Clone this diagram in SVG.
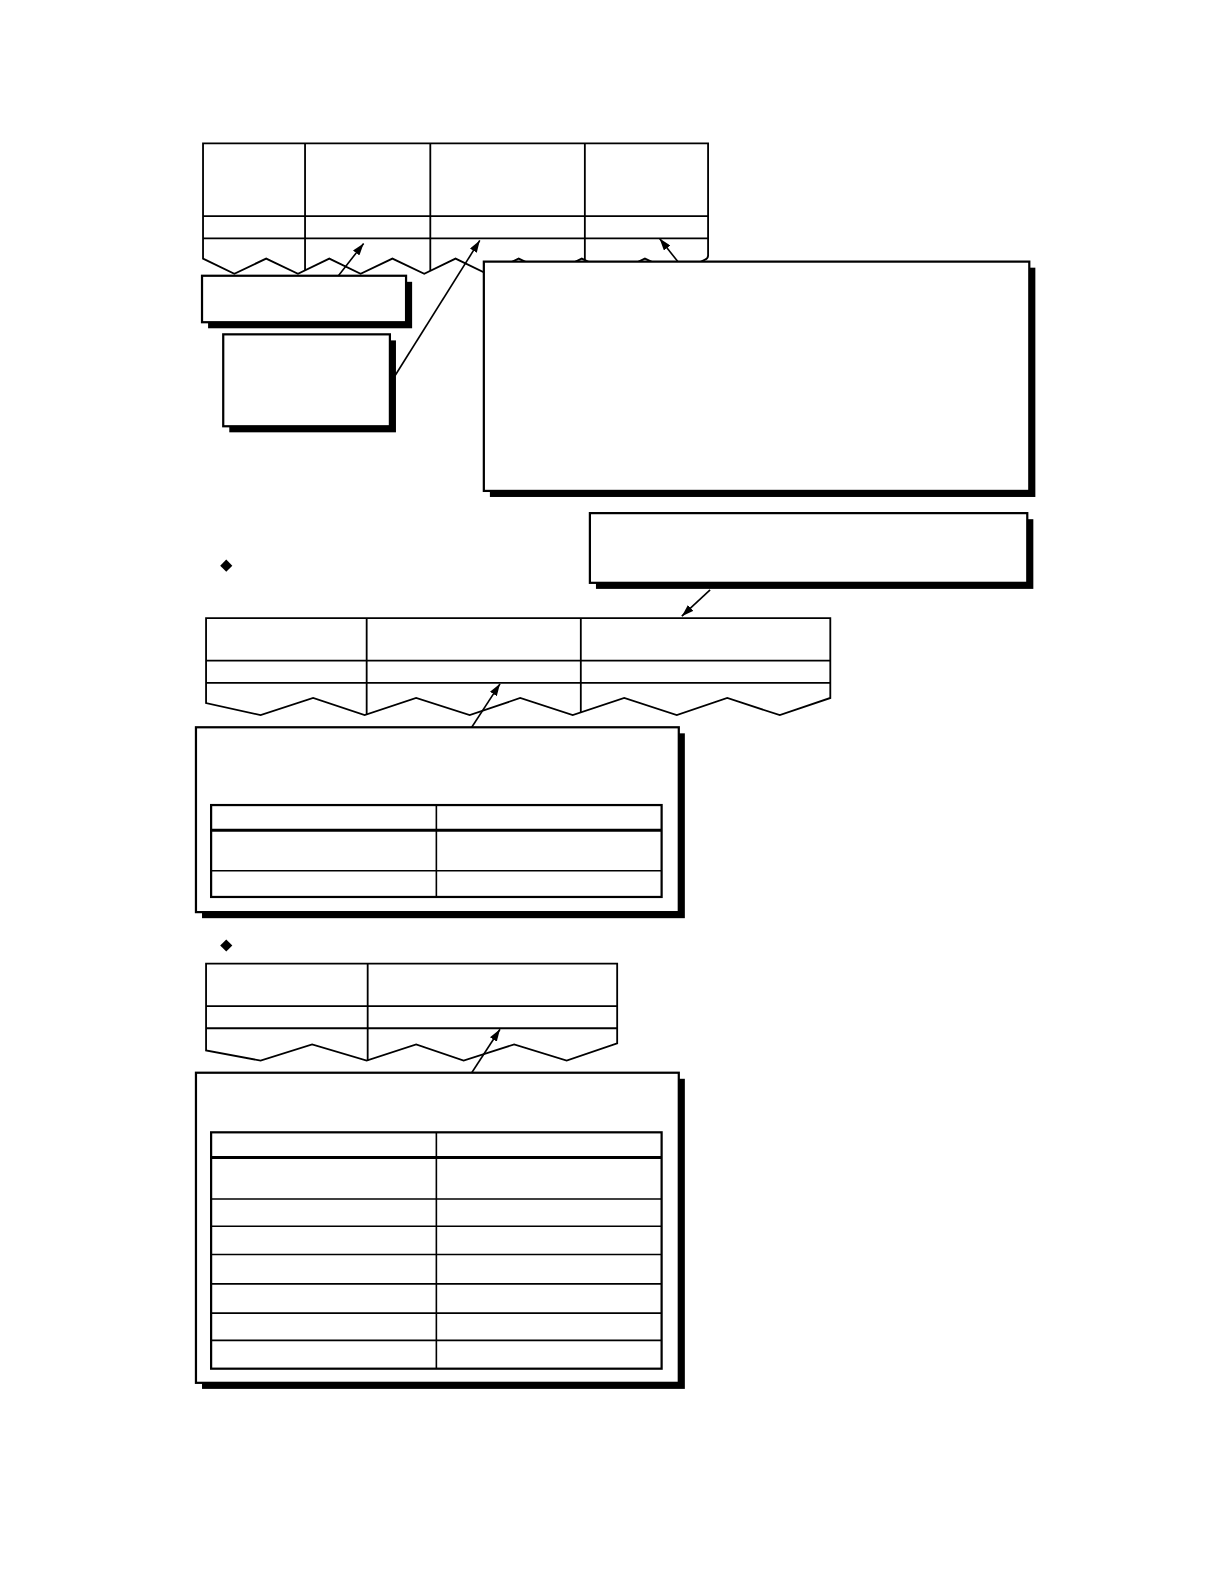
<svg xmlns="http://www.w3.org/2000/svg" width="1224" height="1584" viewBox="0 0 1224 1584">
<style>
.tbl{fill:#fff;stroke:#000;stroke-width:1.8;stroke-linejoin:miter}
.ln{stroke:#000;stroke-width:1.8;fill:none}
.box{fill:#fff;stroke:#000;stroke-width:2.2}
.shd{fill:#000}
.itbl{fill:none;stroke:#000;stroke-width:2.2}
.iln{stroke:#000;stroke-width:1.6}
.hdr{stroke:#000;stroke-width:3}
.con{stroke:#000;stroke-width:1.6;fill:none;marker-end:url(#ah)}
</style>
<defs>
<marker id="ah" viewBox="0 0 12 8" refX="12" refY="4" markerWidth="12" markerHeight="8" markerUnits="userSpaceOnUse" orient="auto">
<path d="M0,0 L12,4 L0,8 Z" fill="#000"/>
</marker>
</defs>
<rect width="1224" height="1584" fill="#fff"/>
<g transform="scale(1.0101)">
<g id="table1">
<path class="tbl" d="M201,142 H701 V253 Q701,256 698,257 L670,271 L638.5,256 L607,271 L576,256 L545,271 L513.5,256 L482,271 L451,256 L420,271 L388.5,256 L357,271 L326,256 L295,271 L263.5,256 L232,271 L201,256 Z"/>
<line class="ln" x1="302" y1="142" x2="302" y2="267.6"/>
<line class="ln" x1="426" y1="142" x2="426" y2="268.1"/>
<line class="ln" x1="579" y1="142" x2="579" y2="257.5"/>
<line class="ln" x1="201" y1="214" x2="701" y2="214"/>
<line class="ln" x1="201" y1="236" x2="701" y2="236"/>
</g>

<g id="box1">
<rect class="shd" x="206" y="279" width="202" height="46"/>
<rect class="box" x="200" y="273" width="202" height="46"/>
</g>
<g id="box2">
<rect class="shd" x="227" y="337" width="165" height="91"/>
<rect class="box" x="221" y="331" width="165" height="91"/>
</g>
<g id="box-main">
<rect class="shd" x="485" y="265" width="540" height="227"/>
<rect class="box" x="479" y="259" width="540" height="227"/>
</g>

<g id="diamond1"><path d="M224,554 L230,560 L224,566 L218,560 Z" fill="#000"/></g>

<g id="box3">
<rect class="shd" x="590" y="514" width="433" height="69"/>
<rect class="box" x="584" y="508" width="433" height="69"/>
</g>

<g id="table2">
<path class="tbl" d="M204,612 H822 V691 L772,708 L720,691 L670,708 L618,691 L567,708 L515,691 L465,708 L412,691 L361,708 L310,691 L258,708 L204,696 Z"/>
<line class="ln" x1="363" y1="612" x2="363" y2="707.5"/>
<line class="ln" x1="575" y1="612" x2="575" y2="705.3"/>
<line class="ln" x1="204" y1="654" x2="822" y2="654"/>
<line class="ln" x1="204" y1="676" x2="822" y2="676"/>
</g>

<g id="box4">
<rect class="shd" x="200" y="726" width="478" height="183"/>
<rect class="box" x="194" y="720" width="478" height="183"/>
<rect class="itbl" x="209" y="797" width="446" height="91"/>
<line class="hdr" x1="209" y1="822" x2="655" y2="822"/>
<line class="iln" x1="209" y1="862" x2="655" y2="862"/>
<line class="iln" x1="432" y1="797" x2="432" y2="888"/>
</g>

<g id="diamond2"><path d="M224,930 L230,936 L224,942 L218,936 Z" fill="#000"/></g>

<g id="table3">
<path class="tbl" d="M204,954 H611 V1033 L561,1050 L509,1034 L459,1050 L412,1034 L363,1050 L309,1034 L258,1050 L204,1040 Z"/>
<line class="ln" x1="364" y1="954" x2="364" y2="1050"/>
<line class="ln" x1="204" y1="996" x2="611" y2="996"/>
<line class="ln" x1="204" y1="1018" x2="611" y2="1018"/>
</g>

<g id="box5">
<rect class="shd" x="200" y="1068" width="478" height="307"/>
<rect class="box" x="194" y="1062" width="478" height="307"/>
<rect class="itbl" x="209" y="1121" width="446" height="234"/>
<line class="hdr" x1="209" y1="1146" x2="655" y2="1146"/>
<line class="iln" x1="209" y1="1187" x2="655" y2="1187"/>
<line class="iln" x1="209" y1="1214" x2="655" y2="1214"/>
<line class="iln" x1="209" y1="1242" x2="655" y2="1242"/>
<line class="iln" x1="209" y1="1271" x2="655" y2="1271"/>
<line class="iln" x1="209" y1="1300" x2="655" y2="1300"/>
<line class="iln" x1="209" y1="1327" x2="655" y2="1327"/>
<line class="iln" x1="432" y1="1121" x2="432" y2="1355"/>
</g>

<g id="connectors">
<line class="con" x1="335" y1="273" x2="360" y2="241"/>
<line class="con" x1="391" y1="372" x2="475" y2="238"/>
<line class="con" x1="671" y1="259" x2="653" y2="236"/>
<line class="con" x1="703" y1="584" x2="675" y2="610"/>
<line class="con" x1="467" y1="720" x2="495" y2="677"/>
<line class="con" x1="467" y1="1062" x2="495" y2="1019"/>
</g>
</g>
</svg>
